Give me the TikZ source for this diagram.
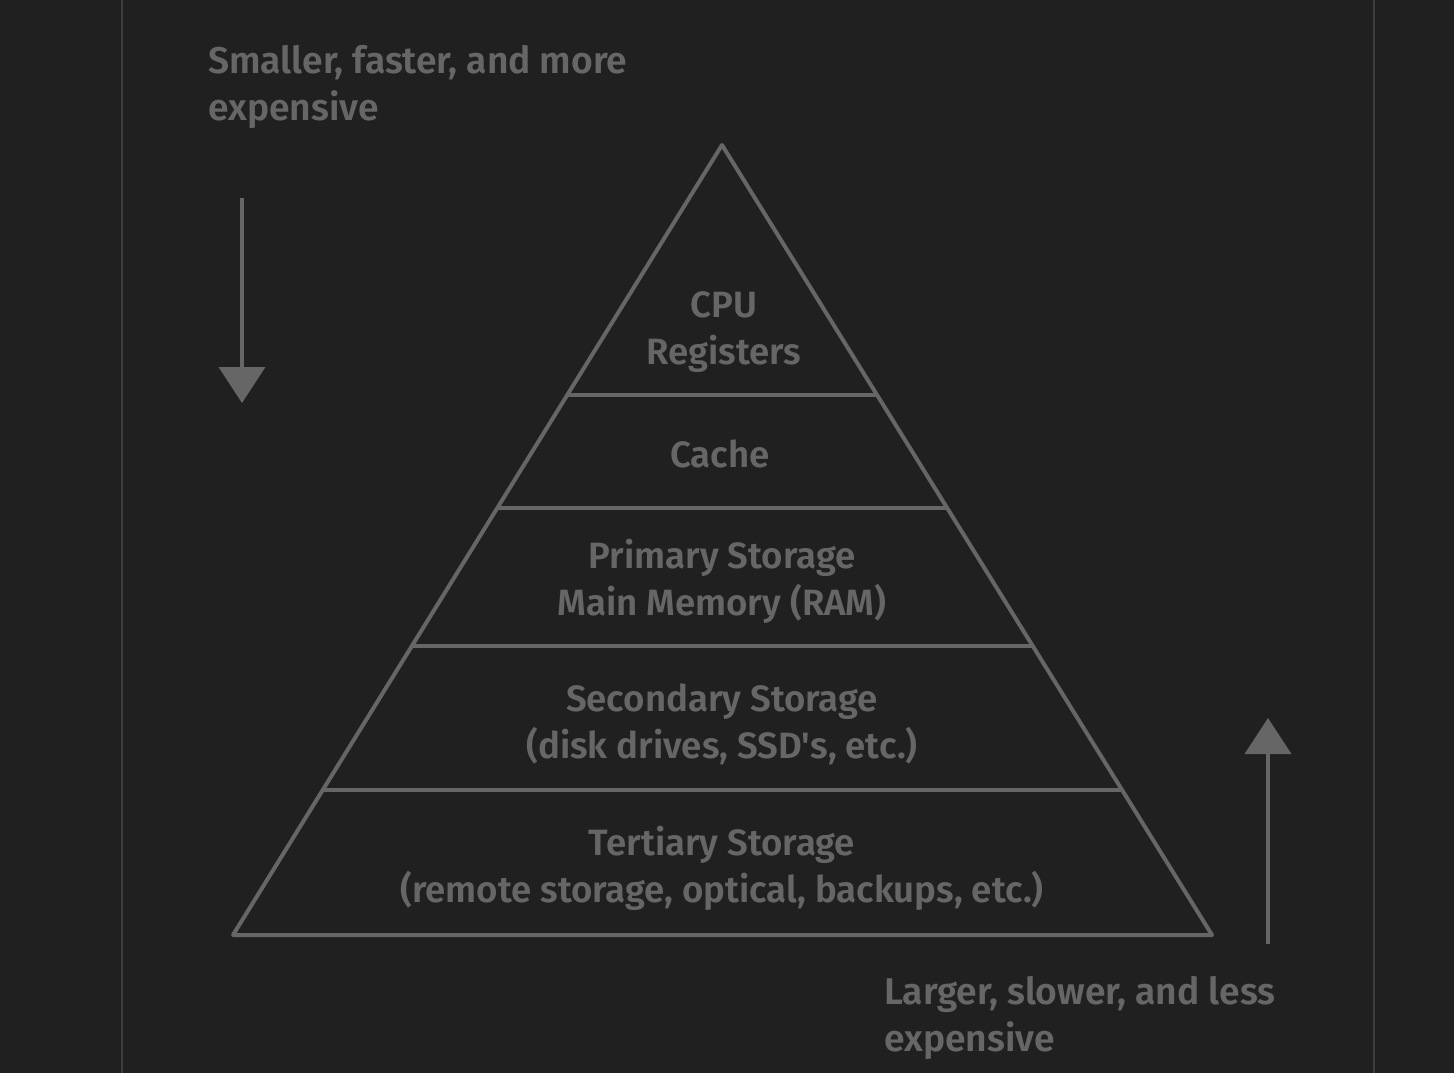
\documentclass[tikz,border=0pt]{standalone}
\usepackage{fontspec}
\setmainfont{Fira Sans}[UprightFont=* SemiBold]
\usetikzlibrary{arrows.meta}
\definecolor{bg}{HTML}{202020}
\definecolor{ink}{HTML}{666666}
\definecolor{rule}{HTML}{3E3E3E}
\begin{document}
\begin{tikzpicture}[x=1pt,y=-1pt,
  lbl/.style={text=ink,font=\fontsize{36.6}{47}\selectfont,align=center,inner sep=0pt},
  side/.style={text=ink,font=\fontsize{37.2}{47}\selectfont,align=left,inner sep=0pt,anchor=north west},
  edge/.style={draw=ink,line width=4pt,line join=round},
  pointer/.style={draw=ink,line width=4pt,-{Triangle[length=36pt,width=46pt]}}]
  \fill[bg] (0,0) rectangle (1454,1073);
  \useasboundingbox (0,0) rectangle (1454,1073);
  % faint page rules
  \draw[rule,line width=2pt] (122,0) -- (122,1073);
  \draw[rule,line width=2pt] (1374,0) -- (1374,1073);
  % pyramid outline and tier dividers
  \draw[edge] (722,145) -- (1212,935) -- (233,935) -- cycle;
  \draw[edge] (567,395) -- (877,395);
  \draw[edge] (497,508) -- (947,508);
  \draw[edge] (413,646) -- (1032,646);
  \draw[edge] (324,790) -- (1121,790);
  % tier labels
  \node[lbl] (cpu) at (724,332) {CPU\\Registers};
  \node[lbl] (cache) at (720,454) {Cache};
  \node[lbl] (primary) at (722,581) {Primary Storage\\Main Memory (RAM)};
  \node[lbl] (secondary) at (722,724) {Secondary Storage\\(disk drives, SSD\textquotesingle s, etc.)};
  \node[lbl] (tertiary) at (722,868) {Tertiary Storage\\(remote storage, optical, backups, etc.)};
  % side notes
  \node[side] (top) at (208,45) {Smaller, faster, and more\\expensive};
  \node[side] (bottom) at (884,976) {Larger, slower, and less\\expensive};
  % direction arrows
  \coordinate (d0) at (242,198);
  \coordinate (d1) at (242,403);
  \coordinate (u0) at (1268,944);
  \coordinate (u1) at (1268,718);
  \draw[pointer] (d0) -- (d1);
  \draw[pointer] (u0) -- (u1);
\end{tikzpicture}
\end{document}
